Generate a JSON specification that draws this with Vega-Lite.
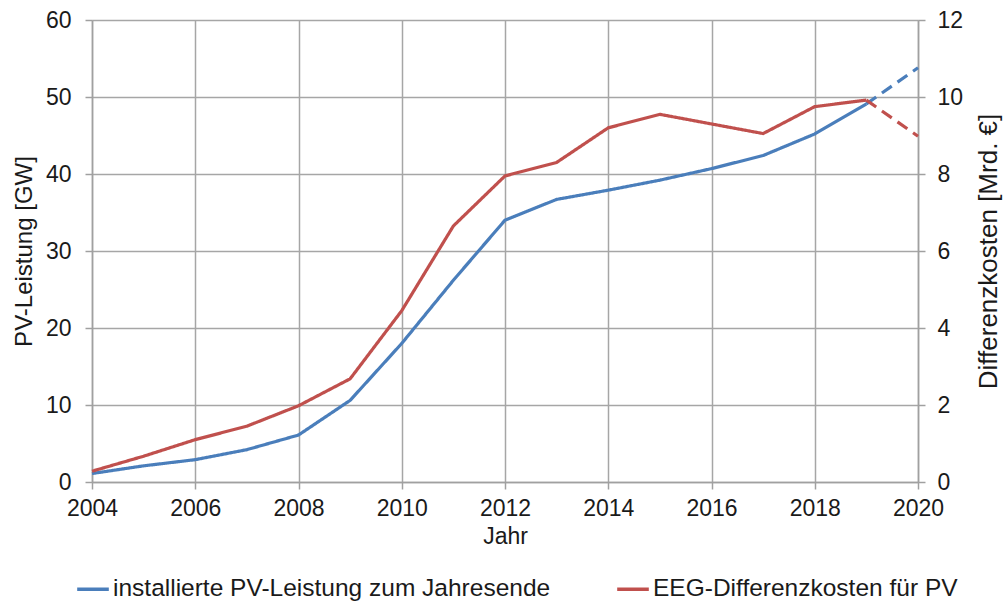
{
  "$schema": "https://vega.github.io/schema/vega-lite/v6.json",
  "autosize": {"type": "none"},
  "width": 826,
  "height": 462,
  "padding": {"left": 92, "top": 20, "right": 87, "bottom": 119},
  "background": "white",
  "config": {
    "font": "Liberation Sans",
    "view": {"stroke": null},
    "axis": {
      "labelFont": "Liberation Sans",
      "titleFont": "Liberation Sans",
      "labelFontSize": 23,
      "titleFontSize": 23,
      "titleFontWeight": "normal",
      "labelColor": "#1a1a1a",
      "titleColor": "#1a1a1a",
      "domainColor": "#a0a0a0",
      "domainWidth": 1.5,
      "tickColor": "#a0a0a0",
      "tickWidth": 1.5,
      "tickSize": 7,
      "gridColor": "#a6a6a6",
      "gridWidth": 1.5,
      "gridOpacity": 1,
      "labelFlush": false
    },
    "legend": {
      "labelFont": "Liberation Sans",
      "labelFontSize": 24.5,
      "labelColor": "#1a1a1a"
    }
  },
  "datasets": {
    "series": [
      {"year": 2004, "series": "installierte PV-Leistung zum Jahresende", "seg": "ist", "value": 1.1},
      {"year": 2005, "series": "installierte PV-Leistung zum Jahresende", "seg": "ist", "value": 2.1},
      {"year": 2006, "series": "installierte PV-Leistung zum Jahresende", "seg": "ist", "value": 2.9},
      {"year": 2007, "series": "installierte PV-Leistung zum Jahresende", "seg": "ist", "value": 4.2},
      {"year": 2008, "series": "installierte PV-Leistung zum Jahresende", "seg": "ist", "value": 6.1},
      {"year": 2009, "series": "installierte PV-Leistung zum Jahresende", "seg": "ist", "value": 10.6},
      {"year": 2010, "series": "installierte PV-Leistung zum Jahresende", "seg": "ist", "value": 18.0},
      {"year": 2011, "series": "installierte PV-Leistung zum Jahresende", "seg": "ist", "value": 26.2},
      {"year": 2012, "series": "installierte PV-Leistung zum Jahresende", "seg": "ist", "value": 34.0},
      {"year": 2013, "series": "installierte PV-Leistung zum Jahresende", "seg": "ist", "value": 36.7},
      {"year": 2014, "series": "installierte PV-Leistung zum Jahresende", "seg": "ist", "value": 37.9},
      {"year": 2015, "series": "installierte PV-Leistung zum Jahresende", "seg": "ist", "value": 39.2},
      {"year": 2016, "series": "installierte PV-Leistung zum Jahresende", "seg": "ist", "value": 40.7},
      {"year": 2017, "series": "installierte PV-Leistung zum Jahresende", "seg": "ist", "value": 42.4},
      {"year": 2018, "series": "installierte PV-Leistung zum Jahresende", "seg": "ist", "value": 45.2},
      {"year": 2019, "series": "installierte PV-Leistung zum Jahresende", "seg": "ist", "value": 49.1},
      {"year": 2019, "series": "installierte PV-Leistung zum Jahresende", "seg": "prognose", "value": 49.1},
      {"year": 2020, "series": "installierte PV-Leistung zum Jahresende", "seg": "prognose", "value": 53.8},
      {"year": 2004, "series": "EEG-Differenzkosten für PV", "seg": "ist", "value": 0.28},
      {"year": 2005, "series": "EEG-Differenzkosten für PV", "seg": "ist", "value": 0.67},
      {"year": 2006, "series": "EEG-Differenzkosten für PV", "seg": "ist", "value": 1.1},
      {"year": 2007, "series": "EEG-Differenzkosten für PV", "seg": "ist", "value": 1.45},
      {"year": 2008, "series": "EEG-Differenzkosten für PV", "seg": "ist", "value": 1.98},
      {"year": 2009, "series": "EEG-Differenzkosten für PV", "seg": "ist", "value": 2.68},
      {"year": 2010, "series": "EEG-Differenzkosten für PV", "seg": "ist", "value": 4.45},
      {"year": 2011, "series": "EEG-Differenzkosten für PV", "seg": "ist", "value": 6.65},
      {"year": 2012, "series": "EEG-Differenzkosten für PV", "seg": "ist", "value": 7.95},
      {"year": 2013, "series": "EEG-Differenzkosten für PV", "seg": "ist", "value": 8.3},
      {"year": 2014, "series": "EEG-Differenzkosten für PV", "seg": "ist", "value": 9.2},
      {"year": 2015, "series": "EEG-Differenzkosten für PV", "seg": "ist", "value": 9.55},
      {"year": 2016, "series": "EEG-Differenzkosten für PV", "seg": "ist", "value": 9.3},
      {"year": 2017, "series": "EEG-Differenzkosten für PV", "seg": "ist", "value": 9.05},
      {"year": 2018, "series": "EEG-Differenzkosten für PV", "seg": "ist", "value": 9.75},
      {"year": 2019, "series": "EEG-Differenzkosten für PV", "seg": "ist", "value": 9.92},
      {"year": 2019, "series": "EEG-Differenzkosten für PV", "seg": "prognose", "value": 9.92},
      {"year": 2020, "series": "EEG-Differenzkosten für PV", "seg": "prognose", "value": 8.98}
    ]
  },
  "data": {"name": "series"},
  "layer": [
    {
      "transform": [{"filter": "datum.series === 'installierte PV-Leistung zum Jahresende'"}],
      "mark": {"type": "line", "strokeWidth": 3.2},
      "encoding": {
        "x": {
          "field": "year", "type": "quantitative",
          "scale": {"domain": [2004, 2020], "nice": false, "zero": false},
          "axis": {
            "title": "Jahr",
            "values": [2004, 2006, 2008, 2010, 2012, 2014, 2016, 2018, 2020],
            "format": "d",
            "labelPadding": 8,
            "titlePadding": 5,
            "grid": true
          }
        },
        "y": {
          "field": "value", "type": "quantitative",
          "scale": {"domain": [0, 60], "nice": false},
          "axis": {
            "title": "PV-Leistung [GW]",
            "titleFontSize": 24,
            "orient": "left",
            "values": [0, 10, 20, 30, 40, 50, 60],
            "labelPadding": 14,
            "titlePadding": 9,
            "grid": true
          }
        },
        "color": {
          "field": "series", "type": "nominal",
          "scale": {
            "domain": ["installierte PV-Leistung zum Jahresende", "EEG-Differenzkosten für PV"],
            "range": ["#4a7ebb", "#c0504d"]
          },
          "legend": {
            "title": null,
            "orient": "none",
            "direction": "horizontal",
            "legendX": -17,
            "legendY": 551,
            "symbolType": "stroke",
            "symbolSize": 1000,
            "symbolStrokeWidth": 3.5,
            "labelOffset": 2,
            "columnPadding": 59,
            "labelLimit": 600
          }
        },
        "strokeDash": {
          "field": "seg", "type": "nominal",
          "scale": {"domain": ["ist", "prognose"], "range": [[1, 0], [12, 7]]},
          "legend": null
        }
      }
    },
    {
      "transform": [{"filter": "datum.series === 'EEG-Differenzkosten für PV'"}],
      "mark": {"type": "line", "strokeWidth": 3.2},
      "encoding": {
        "x": {"field": "year", "type": "quantitative"},
        "y": {
          "field": "value", "type": "quantitative",
          "scale": {"domain": [0, 12], "nice": false},
          "axis": {
            "title": "Differenzkosten [Mrd. €]",
            "titleFontSize": 26,
            "orient": "right",
            "titleAngle": 270,
            "values": [0, 2, 4, 6, 8, 10, 12],
            "labelPadding": 12,
            "titlePadding": 39,
            "grid": false
          }
        },
        "color": {"field": "series", "type": "nominal"},
        "strokeDash": {
          "field": "seg", "type": "nominal",
          "scale": {"domain": ["ist", "prognose"], "range": [[1, 0], [12, 7]]},
          "legend": null
        }
      }
    }
  ],
  "resolve": {"scale": {"y": "independent"}}
}
